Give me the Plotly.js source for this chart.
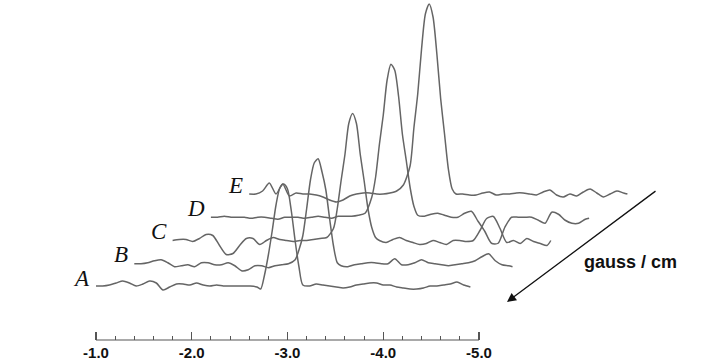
<!DOCTYPE html>
<html><head><meta charset="utf-8">
<script src="https://cdn.plot.ly/plotly-3.0.1.min.js"></script>
<style>html,body{margin:0;padding:0;background:#fff}#chart{width:703px;height:364px}</style>
</head><body><div id="chart"></div>
<script>
// Field position (gauss/cm) sample grid shared by all five traces
const FIELD = [-1.00,-1.07,-1.14,-1.21,-1.28,-1.35,-1.42,-1.49,-1.56,-1.63,-1.70,-1.77,-1.84,-1.91,-1.98,-2.05,-2.12,-2.19,-2.26,-2.33,-2.40,-2.47,-2.54,-2.61,-2.68,
  -2.72,-2.76,-2.80,-2.84,-2.88,-2.92,-2.96,-3.00,-3.04,-3.08,-3.12,-3.16,
  -3.23,-3.30,-3.37,-3.44,-3.51,-3.58,-3.65,-3.72,-3.79,-3.86,-3.93,-4.00,-4.07,-4.14,-4.21,-4.28,-4.35,-4.42,-4.49,-4.56,-4.63,-4.70,-4.77,-4.84,-4.91,-4.95];

// Signal intensity (arbitrary units) for each trace
const INT_A = [1,1,2,4,6,4,1,3,6,4,-3,0,3,3,2,4,2,1,2,1,1,1,1,1,0,
  -2,12,32,56,82,99,103,98,76,46,20,2,
  1,3,2,1,0,-1,0,2,3,4,4,2,2,0,-1,-2,-2,-1,1,1,2,3,5,2,0,null];
const INT_B = [0,0,1,3,4,1,-3,-2,-1,-3,1,1,-1,-1,1,-2,-7,-6,-2,-2,-4,-2,-1,0,4,
  14,28,55,84,101,105,92,74,45,18,1,-2,
  -3,-1,0,1,1,0,0,5,-1,-1,1,4,1,0,-1,-2,-1,0,1,3,7,10,3,-1,-2,-3];
const INT_C = [0,1,1,-1,2,6,5,-5,-14,-13,-5,2,2,-4,0,3,1,0,-1,0,0,1,2,3,12,
  32,60,86,117,127,117,86,60,32,13,3,0,
  -2,1,3,0,-2,-4,-3,0,-2,-4,0,0,-1,0,10,22,24,12,-2,0,-3,2,-1,-3,-5,0];
const INT_D = [0,0,1,0,0,0,-1,0,0,-1,-2,0,0,0,-1,0,1,0,-1,1,1,1,2,4,20,
  40,73,102,137,153,147,121,83,57,30,11,2,
  1,3,4,2,0,0,4,6,-4,-14,-26,-26,-10,0,0,0,0,-3,-6,5,3,-3,-6,-6,-2,-1];
const INT_E = [0,0,3,11,0,10,-2,1,0,0,-1,-3,-6,-8,-6,-2,0,1,1,0,0,1,3,9,28,
  66,100,145,180,190,177,140,95,60,25,5,0,
  0,-1,-1,1,2,-1,0,0,1,1,0,-1,2,4,-1,-3,0,-2,2,5,1,-3,0,3,1,0];

const SERIES_NAMES = ['A','B','C','D','E'];
const X_TICK_VALUES = [-1,-2,-3,-4,-5];
const X_TICK_TEXT = ['-1.0','-2.0','-3.0','-4.0','-5.0'];
const X_MINOR_VALUES = [-1.2,-1.4,-1.6,-1.8,-2.2,-2.4,-2.6,-2.8,-3.2,-3.4,-3.6,-3.8,-4.2,-4.4,-4.6,-4.8];
const DEPTH_TITLE = 'gauss / cm';

const SERIES = [INT_A, INT_B, INT_C, INT_D, INT_E];
// waterfall offsets (display style)
const DX = -0.4, DY = 23.25;
const AXIS_POS = 24/364;

const traces = SERIES.map((vals, k) => ({
  type: 'scatter', mode: 'lines',
  x: FIELD.map(f => f + k*DX),
  y: vals.map(v => v === null ? null : v + k*DY),
  line: {color: '#656565', width: 1.5, shape: 'spline', smoothing: 0.7},
  hoverinfo: 'skip', showlegend: false
}));

const annotations = SERIES_NAMES.map((name, k) => ({
  x: FIELD[0] + k*DX, y: k*DY, xref: 'x', yref: 'y',
  text: name, showarrow: false, xanchor: 'right', yanchor: 'middle',
  xshift: -4, yshift: 9,
  font: {family: 'Liberation Serif, Times New Roman, serif', size: 23, style: 'italic', color: '#111'}
}));
annotations.push({
  x: 630/703, y: 1 - 262/364, xref: 'paper', yref: 'paper',
  text: DEPTH_TITLE, showarrow: false, xanchor: 'center', yanchor: 'middle',
  font: {family: 'Liberation Sans, Arial, sans-serif', size: 18, weight: 'bold', color: '#111'}
});
annotations.push({
  x: 507/703, y: 1 - 302/364, xref: 'paper', yref: 'paper',
  text: '', showarrow: true, ax: 150, ay: -112,
  arrowhead: 2, arrowsize: 1.4, arrowwidth: 1.3, arrowcolor: '#111'
});

const layout = {
  width: 703, height: 364,
  margin: {l: 0, r: 0, t: 0, b: 0},
  paper_bgcolor: '#fff', plot_bgcolor: '#fff',
  xaxis: {
    range: [-1 + 96/95.75, -1 - 607/95.75],
    showgrid: false, zeroline: false, showline: false,
    tickmode: 'array', tickvals: X_TICK_VALUES, ticktext: X_TICK_TEXT,
    ticks: 'inside', ticklen: 8, tickwidth: 1.2, tickcolor: '#555',
    anchor: 'free', position: AXIS_POS, ticklabelstandoff: 2,
    tickfont: {family: 'Liberation Sans, Arial, sans-serif', size: 15, weight: 'bold', color: '#111'},
    minor: {tickmode: 'array', tickvals: X_MINOR_VALUES, ticks: 'inside', ticklen: 4, tickwidth: 1, tickcolor: '#555', showgrid: false},
    fixedrange: true
  },
  yaxis: {range: [-77, 287], visible: false, fixedrange: true},
  shapes: [{type: 'line', xref: 'x', yref: 'paper', x0: -1, x1: -5, y0: AXIS_POS, y1: AXIS_POS,
            line: {color: '#555', width: 1.2}}],
  annotations: annotations
};

Plotly.newPlot('chart', traces, layout, {staticPlot: true, displayModeBar: false});
</script></body></html>
